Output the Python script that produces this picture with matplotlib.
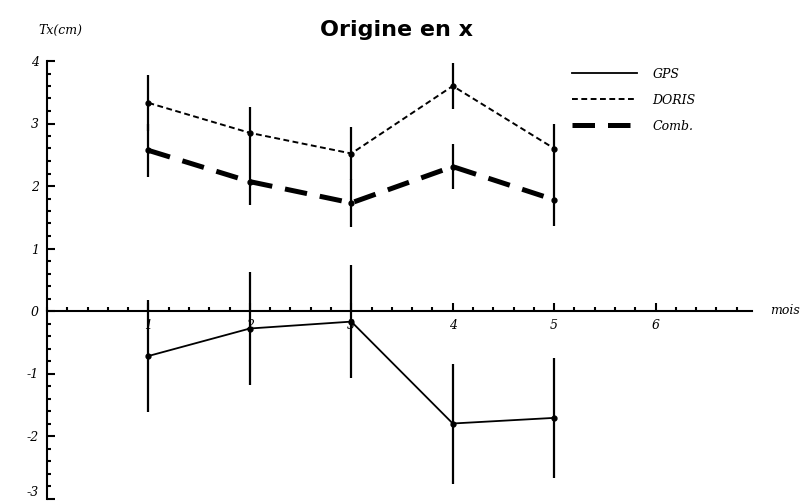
import numpy as np
import matplotlib
matplotlib.use("Agg")
import matplotlib.pyplot as plt
from matplotlib.ticker import MultipleLocator

# months
mois = [1, 2, 3, 4, 5]

# Tx (cm) per solution, with error bars
gps = [-0.72, -0.28, -0.17, -1.80, -1.71]
gps_err = [0.90, 0.91, 0.90, 0.96, 0.96]
doris = [3.33, 2.85, 2.52, 3.60, 2.60]
doris_err = [0.45, 0.42, 0.42, 0.37, 0.40]
comb = [2.57, 2.07, 1.73, 2.31, 1.78]
comb_err = [0.42, 0.37, 0.38, 0.36, 0.42]

x_ticks = [1, 2, 3, 4, 5, 6]
y_ticks = [-3, -2, -1, 0, 1, 2, 3, 4]

lab_font = dict(family="DejaVu Serif", style="italic", size=9)

fig = plt.figure(figsize=(8.09, 5.04), dpi=100)
ax = fig.add_axes([47 / 809, 5.5 / 504, 705 / 809, 437.5 / 504])
ax.set_xlim(0, 6.95)
ax.set_ylim(-3, 4)

for s in ["top", "right"]:
    ax.spines[s].set_visible(False)
ax.spines["bottom"].set_position(("data", 0))
ax.spines["left"].set_position(("data", 0))
for s in ["bottom", "left"]:
    ax.spines[s].set_linewidth(1.5)

ax.set_xticks(x_ticks)
ax.set_yticks(y_ticks)
ax.xaxis.set_minor_locator(MultipleLocator(0.2))
ax.yaxis.set_minor_locator(MultipleLocator(0.2))
ax.tick_params(which="major", direction="in", length=6, width=1.5, pad=6)
ax.tick_params(which="minor", direction="in", length=3, width=1.5)
ax.set_xticklabels([str(v) for v in x_ticks], **lab_font)
ylabs = ax.set_yticklabels([str(v) for v in y_ticks], **lab_font)
ylabs[0].set_verticalalignment("bottom")  # keep "-3" inside the figure

# error bars
for y, e in [(gps, gps_err), (doris, doris_err), (comb, comb_err)]:
    ax.errorbar(mois, y, yerr=e, fmt="none", ecolor="black", elinewidth=1.6, capsize=0)

ax.plot(mois, gps, color="black", lw=1.3, label="GPS")
ax.plot(mois, doris, color="black", lw=1.4, ls=(0, (3, 1.8)), label="DORIS")
ax.plot(mois, comb, color="black", lw=3.6, ls=(0, (4.5, 2.6)), label="Comb.")
for y in [gps, doris, comb]:
    ax.plot(mois, y, "o", color="black", ms=3.5)

leg = ax.legend(loc="upper left", bbox_to_anchor=(0.745, 0.985), frameon=False,
                prop=dict(family="DejaVu Serif", style="italic", size=9),
                handlelength=5.2, handletextpad=1.2, labelspacing=1.05,
                borderpad=0, borderaxespad=0)

fig.text(397 / 809, 1 - 30 / 504, "Origine en x", ha="center", va="center",
         fontsize=16, fontweight="bold", family="DejaVu Sans")
fig.text(38 / 809, 1 - 30 / 504, "Tx(cm)", ha="left", va="center", **lab_font)
fig.text(770 / 809, 1 - 311 / 504, "mois", ha="left", va="center", **lab_font)

fig.savefig("out.png", dpi=100)
